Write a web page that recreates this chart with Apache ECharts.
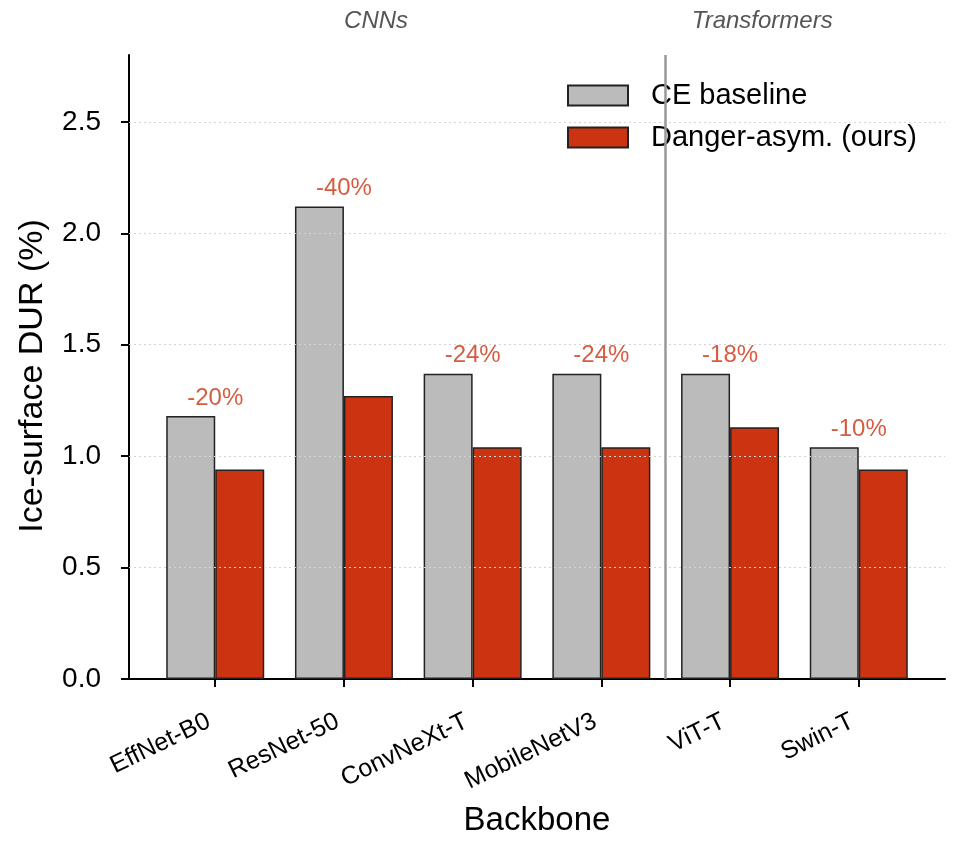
<!DOCTYPE html>
<html>
<head>
<meta charset="utf-8">
<script src="https://cdn.jsdelivr.net/npm/echarts@6/dist/echarts.min.js"></script>
<style>
  html, body { margin: 0; padding: 0; background: #fff; }
  #chart { width: 956px; height: 842px; }
</style>
</head>
<body>
<div id="chart"></div>
<script>
const categories = ["EffNet-B0", "ResNet-50", "ConvNeXt-T", "MobileNetV3", "ViT-T", "Swin-T"];
const baseline = [1.18, 2.12, 1.37, 1.37, 1.37, 1.04];
const ours = [0.94, 1.27, 1.04, 1.04, 1.13, 0.94];
const changeLabels = ["-20%", "-40%", "-24%", "-24%", "-18%", "-10%"];
const yTicks = [0, 0.5, 1.0, 1.5, 2.0, 2.5];
const groupSplit = 3.5;
const groups = [{ name: "CNNs", at: 1.25 }, { name: "Transformers", at: 4.25 }];

const FONT = "Liberation Sans, Arial, sans-serif";
const RED = "#cc3311";
const GREY = "#bbbbbb";
const xIdx = categories.map((c, i) => i);

const chart = echarts.init(document.getElementById("chart"));
const option = {
  animation: false,
  backgroundColor: "#fff",
  textStyle: { fontFamily: FONT },
  grid: { left: 129, right: 11, top: 55, bottom: 162 },
  legend: {
    orient: "vertical",
    left: 562,
    top: 76,
    icon: "rect",
    itemWidth: 60,
    itemHeight: 20,
    itemGap: 13,
    textStyle: { fontSize: 29, color: "#000", fontFamily: FONT, padding: [0, 0, 0, 18] },
    data: ["CE baseline", "Danger-asym. (ours)"],
  },
  xAxis: {
    type: "value",
    min: -0.67,
    max: 5.67,
    name: "Backbone",
    nameLocation: "middle",
    nameGap: 125,
    nameTextStyle: { fontSize: 33, color: "#000", fontFamily: FONT },
    axisLine: { show: true, onZero: false, lineStyle: { color: "#000", width: 2 } },
    axisTick: { show: true, customValues: xIdx, length: 8, lineStyle: { color: "#000", width: 2 } },
    axisLabel: {
      customValues: xIdx,
      rotate: 26,
      margin: 38,
      fontSize: 25,
      color: "#000",
      fontFamily: FONT,
      formatter: (v) => categories[Math.round(v)] + " ",
    },
    splitLine: { show: false },
  },
  yAxis: {
    type: "value",
    min: 0,
    max: 2.8,
    name: "Ice-surface DUR (%)",
    nameLocation: "middle",
    nameGap: 79,
    nameTextStyle: { fontSize: 34, color: "#000", fontFamily: FONT, padding: [0, 18, 0, 0] },
    axisLine: { show: true, onZero: false, lineStyle: { color: "#000", width: 2 } },
    axisTick: { show: true, customValues: yTicks, length: 8, lineStyle: { color: "#000", width: 2 } },
    axisLabel: {
      customValues: yTicks,
      margin: 28,
      fontSize: 28,
      color: "#000",
      fontFamily: FONT,
      formatter: (v) => v.toFixed(1),
    },
    splitLine: { show: false },
  },
  series: [
    {
      name: "CE baseline",
      type: "bar",
      barWidth: 49,
      barGap: "0%",
      data: baseline.map((v, i) => [i, v]),
      itemStyle: { color: GREY, borderColor: "#222", borderWidth: 1.5 },
    },
    {
      name: "Danger-asym. (ours)",
      type: "bar",
      barWidth: 49,
      barGap: "0%",
      data: ours.map((v, i) => [i, v]),
      itemStyle: { color: RED, borderColor: "#222", borderWidth: 1.5 },
    },
    {
      type: "scatter",
      symbolSize: 0,
      silent: true,
      z: 5,
      data: baseline.map((v, i) => [i, v]),
      label: {
        show: true,
        position: "top",
        distance: 6,
        fontSize: 24,
        color: RED,
        fontFamily: FONT,
        formatter: (p) => changeLabels[p.dataIndex],
      },
      markLine: {
        silent: true,
        symbol: "none",
        label: { show: false },
        data: yTicks.filter((t) => t > 0).map((t) => ({
          yAxis: t,
          lineStyle: { color: "#d4d4d4", type: [2, 3], width: 1.2 },
        })).concat([{
          xAxis: groupSplit,
          lineStyle: { color: "#999", type: "solid", width: 2.5 },
        }]),
      },
    },
  ],
};
chart.setOption(option);

chart.setOption({
  graphic: groups.map((g) => ({
    type: "text",
    x: chart.convertToPixel({ xAxisIndex: 0 }, g.at),
    y: 21,
    style: {
      text: g.name,
      fontSize: 24,
      fontStyle: "italic",
      fontFamily: FONT,
      fill: "#555",
      align: "center",
      verticalAlign: "middle",
    },
  })),
});
</script>
</body>
</html>
